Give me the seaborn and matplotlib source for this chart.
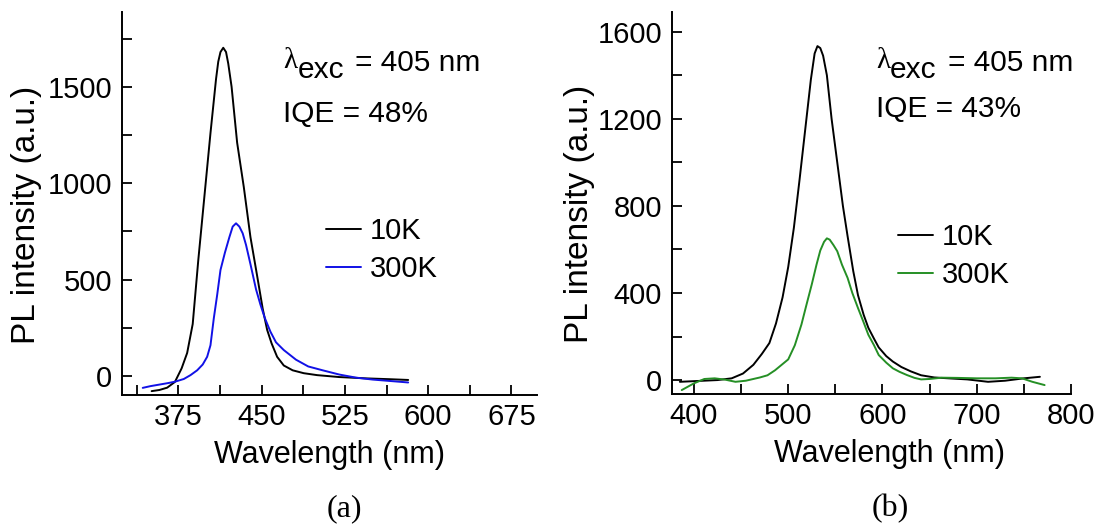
import numpy as np
import pandas as pd
import seaborn as sns
import matplotlib.pyplot as plt
from matplotlib.ticker import MultipleLocator

# (a) blue phosphor spectra
wl_a_10k = [351, 358, 365, 372, 378, 383, 388, 393, 398, 404, 409, 411, 413, 415.5,
            418, 420, 423, 428, 434, 440, 446, 451, 455, 459, 464, 470, 478, 488,
            500, 520, 545, 565, 582]
pl_a_10k = [-78, -72, -60, -30, 40, 120, 270, 600, 900, 1260, 1540, 1630, 1680, 1702,
            1680, 1620, 1500, 1210, 980, 720, 520, 350, 240, 170, 100, 55, 30, 15,
            5, -5, -12, -16, -20]
wl_a_300k = [343, 350, 358, 366, 372, 380, 386, 392, 397, 401, 404, 407, 410, 413,
             417, 421, 424, 427, 430, 433, 436, 440, 445, 449, 453, 458, 463, 470,
             481, 492, 505, 520, 535, 550, 565, 582]
pl_a_300k = [-61, -52, -44, -36, -29, -15, 5, 30, 60, 100, 160, 300, 420, 550,
             640, 720, 775, 792, 775, 740, 680, 580, 450, 370, 300, 230, 175, 135,
             85, 50, 30, 8, -8, -18, -25, -33]

# (b) green phosphor spectra
wl_b_10k = [385, 395, 410, 425, 440, 452, 463, 472, 480, 487, 494, 500, 506, 512,
            518, 524, 528, 531, 534, 537, 541, 546, 552, 558, 563, 569, 574, 580,
            585, 591, 596, 604, 611, 620, 630, 641, 655, 670, 690, 712, 730, 750, 767]
pl_b_10k = [-8, -6, -3, 0, 8, 30, 70, 120, 170, 260, 380, 520, 700, 920,
            1150, 1380, 1500, 1534, 1525, 1490, 1400, 1200, 1000, 800, 660, 500, 390, 300,
            240, 190, 150, 110, 85, 60, 40, 22, 12, 8, 3, -8, -3, 8, 15]
wl_b_300k = [387, 400, 411, 422, 433, 444, 455, 463, 470, 478, 486, 493, 500, 507,
             514, 519, 525, 530, 534, 538, 541, 544, 548, 552, 557, 563, 568, 574,
             580, 585, 591, 596, 604, 611, 618, 626, 634, 641, 650, 663, 680, 700,
             720, 737, 748, 759, 772]
pl_b_300k = [-46, -15, 5, 8, 2, -8, -3, 5, 12, 22, 45, 70, 95, 160,
             255, 340, 440, 530, 595, 635, 651, 645, 620, 592, 530, 469, 400, 331,
             265, 208, 160, 115, 80, 54, 38, 23, 10, 3, 5, 11, 10, 8,
             8, 11, 8, -8, -23]

labels = ["10K", "300K"]


def spectra(wl1, pl1, wl2, pl2):
    d1 = pd.DataFrame({"wl": wl1, "pl": pl1, "T": labels[0]})
    d2 = pd.DataFrame({"wl": wl2, "pl": pl2, "T": labels[1]})
    return pd.concat([d1, d2], ignore_index=True)


sns.set_style("ticks")
plt.rcParams["font.family"] = ["Liberation Sans", "DejaVu Sans"]
for k in ["text.color", "axes.labelcolor", "xtick.color", "ytick.color",
          "axes.edgecolor"]:
    plt.rcParams[k] = "black"

W, H = 1105, 525
fig = plt.figure(figsize=(W / 100, H / 100), dpi=100)
ax1 = fig.add_axes([122.3 / W, 130 / H, 414.7 / W, 383.3 / H])
ax2 = fig.add_axes([672.3 / W, 131 / H, 398.7 / W, 382.3 / H])

panels = [
    (ax1, spectra(wl_a_10k, pl_a_10k, wl_a_300k, pl_a_300k), "#1111e6"),
    (ax2, spectra(wl_b_10k, pl_b_10k, wl_b_300k, pl_b_300k), "#258f25"),
]

for ax, df, col in panels:
    sns.lineplot(data=df, x="wl", y="pl", hue="T", hue_order=labels,
                 palette={"10K": "black", "300K": col}, estimator=None,
                 sort=False, linewidth=1.4, ax=ax)
    for s in ["top", "right"]:
        ax.spines[s].set_visible(False)
    for s in ["left", "bottom"]:
        ax.spines[s].set_linewidth(1.4)
    ax.tick_params(which="both", direction="in", length=7, width=1.3,
                   labelsize=21, color="black", labelcolor="black")
    ax.tick_params(axis="x", pad=6)
    ax.tick_params(axis="y", pad=7.5)
    ax.set_xlabel("Wavelength (nm)", fontsize=22)
    ax.set_ylabel("PL intensity (a.u.)", fontsize=24)
    ax.yaxis.set_label_coords(-0.194, 0.47)

ax1.set_xlim(324.6, 698)
ax1.set_ylim(-98, 1889)
ax1.xaxis.set_major_locator(MultipleLocator(75))
ax1.xaxis.set_minor_locator(MultipleLocator(37.5))
ax1.yaxis.set_major_locator(MultipleLocator(500))
ax1.yaxis.set_minor_locator(MultipleLocator(250))
ax1.xaxis.set_label_coords(0.50, -0.117)

ax2.set_xlim(377, 800)
ax2.set_ylim(-64, 1692)
ax2.xaxis.set_major_locator(MultipleLocator(100))
ax2.xaxis.set_minor_locator(MultipleLocator(50))
ax2.yaxis.set_major_locator(MultipleLocator(400))
ax2.yaxis.set_minor_locator(MultipleLocator(200))
ax2.xaxis.set_label_coords(0.544, -0.117)

# legends, no frame
sns.move_legend(ax1, "center left", bbox_to_anchor=(0.4905, 0.378), title=None,
                frameon=False, fontsize=21, handlelength=1.2, handletextpad=0.3,
                labelspacing=0.35, borderpad=0, borderaxespad=0)
sns.move_legend(ax2, "center left", bbox_to_anchor=(0.567, 0.36), title=None,
                frameon=False, fontsize=21, handlelength=1.2, handletextpad=0.3,
                labelspacing=0.35, borderpad=0, borderaxespad=0)


def px(x, y):
    return x / W, 1 - y / H


# excitation / IQE notes
for x0, y_iqe, iqe in [(283.3, 121.7, "IQE = 48%"), (876.0, 117.0, "IQE = 43%")]:
    fig.text(*px(x0, 68), "λ", fontsize=21, family="Liberation Serif",
             va="baseline")
    fig.text(*px(x0 + 14, 78.3), "exc", fontsize=21.5, va="baseline")
    fig.text(*px(x0 + 72, 70.7), "= 405 nm", fontsize=21.5, va="baseline")
    fig.text(*px(x0, y_iqe), iqe, fontsize=21.5, va="baseline")

fig.text(*px(344, 509), "(a)", fontsize=23, family="Liberation Serif",
         ha="center", va="center")
fig.text(*px(890, 509), "(b)", fontsize=23, family="Liberation Serif",
         ha="center", va="center")

fig.savefig("out.png", dpi=100)
